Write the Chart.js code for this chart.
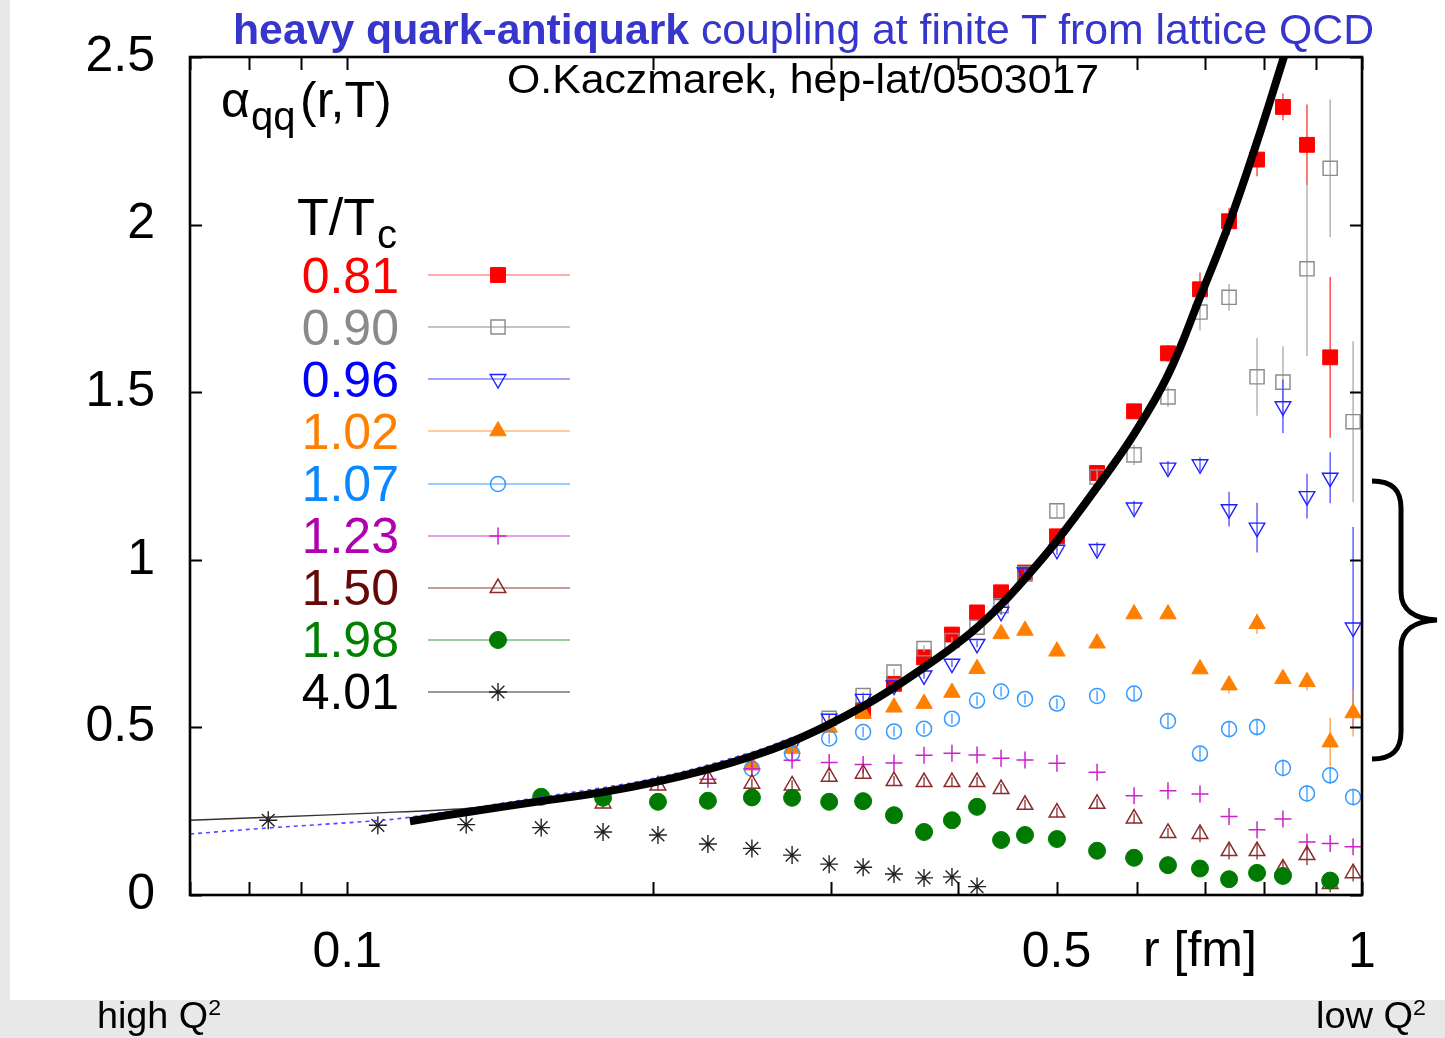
<!DOCTYPE html>
<html>
<head>
<meta charset="utf-8">
<title>heavy quark-antiquark coupling at finite T from lattice QCD</title>
<script src="https://cdn.jsdelivr.net/npm/chart.js@4.4.1/dist/chart.umd.min.js"></script>
<style>
  html, body { margin:0; padding:0; }
  body { width:1445px; height:1038px; background:#e8e8e8; position:relative; overflow:hidden;
         font-family:"Liberation Sans", Arial, Helvetica, sans-serif; }
  #panel { position:absolute; left:10px; top:0; width:1435px; height:1000px; background:#ffffff; }
  #chartBox { position:absolute; left:0; top:0; width:1445px; height:1038px; }
  .t { position:absolute; white-space:nowrap; line-height:1; transform-origin:0 0; }
  .bl { display:inline-block; width:0; height:0; vertical-align:baseline; }
  #brace { position:absolute; left:0; top:0; }
</style>
</head>
<body>
<div id="panel"></div>
<div id="chartBox"><canvas id="chart" width="1445" height="1038"></canvas></div>
<svg id="brace" width="1445" height="1038">
  <path d="M1372,481 C1392,481 1401,490 1401,508 L1401,592 C1401,610 1415,619 1437,620 C1415,621 1401,630 1401,648 L1401,732 C1401,750 1392,759 1372,759"
        fill="none" stroke="#000" stroke-width="5"/>
</svg>
<script>
// ---------------- data ----------------
const rValues = [0.0836,0.1072,0.1310,0.1553,0.1787,0.2024,0.2267,0.2505,0.2744,0.2985,
                 0.3224,0.3458,0.3702,0.3944,0.4175,0.4409,0.4655,0.5005,0.5482,0.5962,
                 0.6439,0.6924,0.7396,0.7881,0.8358,0.8827,0.9303,0.9800];

const alpha081 = [null,null,null,null,null,null,null,null,null,null,
                  0.551,0.630,0.709,0.777,0.843,0.903,0.962,1.070,1.259,1.443,
                  1.616,1.807,2.010,2.194,2.351,2.238,1.604,null];
const err081   = [null,null,null,null,null,null,null,null,null,null,
                  0.01,0.01,0.01,0.01,0.01,0.01,0.01,0.015,0.02,0.02,
                  0.025,0.05,0.04,0.05,0.04,0.12,0.24,null];

const alpha090 = [null,null,null,null,null,null,null,null,null,0.527,
                  0.595,0.665,0.735,0.759,0.799,0.863,0.958,1.146,1.247,1.313,
                  1.486,1.739,1.783,1.546,1.530,1.868,2.168,1.412];
const err090   = [null,null,null,null,null,null,null,null,null,0.01,
                  0.01,0.01,0.01,0.01,0.01,0.01,0.015,0.02,0.025,0.03,
                  0.03,0.055,0.04,0.116,0.107,0.26,0.205,0.24];

const alpha096 = [null,null,null,null,null,null,null,null,0.446,0.526,
                  0.585,0.625,0.655,0.690,0.749,0.845,0.962,1.030,1.032,1.156,
                  1.275,1.285,1.151,1.096,1.458,1.190,1.245,0.798];
const err096   = [null,null,null,null,null,null,null,null,0.01,0.01,
                  0.01,0.01,0.01,0.01,0.01,0.01,0.015,0.015,0.02,0.02,
                  0.02,0.02,0.052,0.074,0.08,0.067,0.076,0.30];

const alpha102 = [null,null,null,null,null,null,null,0.387,0.437,0.500,
                  0.541,0.560,0.571,0.604,0.675,0.779,0.789,0.727,0.751,0.838,
                  0.838,0.674,0.626,0.809,0.645,0.636,0.456,0.543];
const err102   = [null,null,null,null,null,null,null,0.01,0.01,0.01,
                  0.01,0.01,0.01,0.01,0.01,0.01,0.01,0.01,0.01,0.01,
                  0.01,0.01,0.025,0.03,0.015,0.025,0.073,0.07];

const alpha107 = [null,null,null,null,null,null,null,0.377,0.422,0.467,
                  0.486,0.488,0.496,0.526,0.580,0.607,0.585,0.571,0.594,0.601,
                  0.519,0.422,0.495,0.501,0.379,0.303,0.357,0.292];
const err107   = [null,null,null,null,null,null,null,0.015,0.015,0.015,
                  0.015,0.015,0.015,0.015,0.015,0.015,0.015,0.015,0.015,0.02,
                  0.02,0.02,0.025,0.025,0.025,0.025,0.025,0.025];

const alpha123 = [null,null,null,null,null,null,0.345,0.377,0.402,0.395,
                  0.389,0.394,0.417,0.423,0.418,0.408,0.403,0.393,0.366,0.296,
                  0.311,0.301,0.234,0.195,0.227,0.158,0.154,0.144];

const alpha150 = [null,null,null,null,0.273,0.327,0.347,0.332,0.327,0.353,
                  0.362,0.340,0.337,0.337,0.337,0.316,0.269,0.246,0.272,0.228,
                  0.185,0.182,0.131,0.131,0.079,0.119,0.033,0.065];
const err150   = [null,null,null,null,0.015,0.015,0.015,0.015,0.015,0.015,
                  0.015,0.015,0.015,0.015,0.015,0.015,0.015,0.015,0.015,0.015,
                  0.015,0.025,0.025,0.025,0.025,0.03,0.025,0.025];

const alpha198 = [null,null,null,0.293,0.290,0.278,0.281,0.291,0.290,0.278,
                  0.280,0.238,0.188,0.223,0.263,0.164,0.179,0.167,0.132,0.111,
                  0.089,0.079,0.047,0.066,0.057,null,0.043,null];

const alpha401 = [0.223,0.208,0.210,0.201,0.188,0.179,0.152,0.139,0.119,0.092,
                  0.083,0.0625,0.051,0.054,0.025,null,null,null,null,null,
                  null,null,null,null,null,null,null,null];

// thick black curve (zero-temperature coupling)
const curveR     = [0.1153,0.1310,0.1553,0.1787,0.2006,0.2267,0.2505,0.2744,0.2985,0.3224,
                    0.3458,0.3702,0.3944,0.4175,0.4409,0.4655,0.5005,0.5482,0.5962,0.6439,
                    0.6924,0.7396,0.7881,0.8358,0.8688];
const curveAlpha = [0.220,0.247,0.280,0.307,0.336,0.375,0.414,0.458,0.509,0.563,
                    0.619,0.679,0.738,0.798,0.866,0.944,1.057,1.217,1.375,1.551,
                    1.783,2.003,2.247,2.491,2.652];
// thin black perturbative line
const thinR     = [0.0700,0.0836,0.1072,0.1310,0.1600,0.1900];
const thinAlpha = [0.223,0.232,0.245,0.258,0.282,0.322];
// blue dashed perturbative line
const dashR     = [0.0700,0.0836,0.1072,0.1153,0.1553,0.2006,0.2505,0.2744];
const dashAlpha = [0.182,0.200,0.222,0.232,0.292,0.348,0.426,0.470];

const seriesLabels = ['0.81','0.90','0.96','1.02','1.07','1.23','1.50','1.98','4.01'];
const xTickValues = [0.07,0.08,0.09,0.1,0.2,0.3,0.4,0.5,0.6,0.7,0.8,0.9,1];
const xTickLabels = ['','','','0.1','','','','0.5','','','','','1'];
const yTickValues = [0,0.5,1,1.5,2,2.5];
const yTickLabels = ['0','0.5','1','1.5','2','2.5'];

// ---------------- styles ----------------
const FONT = '"Liberation Sans", Arial, Helvetica, sans-serif';
const seriesValues = [alpha081,alpha090,alpha096,alpha102,alpha107,alpha123,alpha150,alpha198,alpha401];
const seriesErrors = [err081,err090,err096,err102,err107,null,err150,null,null];
const styles = [
  {color:'#ff0000', text:'#ff0000', err:'#ff3030', line:'#ff5a5a', ps:'rect',     rot:0,   r:10.5, fill:true,  bw:1},
  {color:'#8a8a8a', text:'#8a8a8a', err:'#a8a8a8', line:'#8a8a8a', ps:'rect',     rot:0,   r:10,   fill:false, bw:1.4},
  {color:'#2020ff', text:'#0000ff', err:'#4a4aff', line:'#4a4aff', ps:'triangle', rot:180, r:9,    fill:false, bw:1.4},
  {color:'#ff8000', text:'#ff8000', err:'#ff9a3a', line:'#ff9a3a', ps:'triangle', rot:0,   r:9.5,  fill:true,  bw:1},
  {color:'#3399ff', text:'#0a88ff', err:'#3399ff', line:'#3399ff', ps:'circle',   rot:0,   r:7.5,  fill:false, bw:1.5},
  {color:'#cc22cc', text:'#b000b0', err:'#cc22cc', line:'#cc44cc', ps:'cross',    rot:0,   r:8.5,  fill:false, bw:1.5},
  {color:'#8b2b2b', text:'#660808', err:'#8b2b2b', line:'#8b3a3a', ps:'triangle', rot:0,   r:9,    fill:false, bw:1.5},
  {color:'#007a00', text:'#008000', err:'#007a00', line:'#3a9a3a', ps:'circle',   rot:0,   r:8.5,  fill:true,  bw:1},
  {color:'#222222', text:'#000000', err:'#222222', line:'#333333', ps:'star',     rot:0,   r:9,    fill:false, bw:1.4}
];
const legendLineY = [275,327,379,431,484,536,588,640,692];
const legendBaseY = [293,345,397,448.5,500.5,552.5,604.5,656.5,708.5];

const datasets = seriesValues.map((vals, i) => {
  const s = styles[i], errs = seriesErrors[i];
  const pts = [];
  rValues.forEach((r, j) => { if (vals[j] != null) pts.push({x:r, y:vals[j], e: errs ? (errs[j] || 0) : 0}); });
  return {
    type:'scatter', label:seriesLabels[i], data:pts, showLine:false,
    pointStyle:s.ps, pointRotation:s.rot, pointRadius:s.r, pointHoverRadius:s.r,
    pointBackgroundColor: s.fill ? s.color : 'rgba(0,0,0,0)',
    pointBorderColor:s.color, pointBorderWidth:s.bw,
    order: 30 - i, errColor: s.err
  };
});
datasets.push({
  type:'line', label:'thin', data: thinR.map((r,i)=>({x:r, y:thinAlpha[i]})),
  borderColor:'#333333', borderWidth:1.3, pointRadius:0, fill:false, order:3, tension:0.3
});
datasets.push({
  type:'line', label:'dash', data: dashR.map((r,i)=>({x:r, y:dashAlpha[i]})),
  borderColor:'#4a4aff', borderWidth:1.6, borderDash:[4,4], pointRadius:0, fill:false, order:2,
  tension:0.35
});
datasets.push({
  type:'line', label:'T=0', data: curveR.map((r,i)=>({x:r, y:curveAlpha[i]})),
  borderColor:'#000000', borderWidth:8, pointRadius:0, fill:false, order:0, clip:0,
  tension:0.4, borderCapStyle:'butt', borderJoinStyle:'round'
});

// ---------------- plugins ----------------
const errorBarPlugin = {
  id:'errbars',
  beforeDatasetDraw(chart, args) {
    const ds = chart.data.datasets[args.index];
    if (!ds.errColor) return;
    const {ctx, chartArea:a, scales:{x, y}} = chart;
    ctx.save();
    ctx.beginPath(); ctx.rect(a.left, a.top, a.right - a.left, a.bottom - a.top); ctx.clip();
    ctx.strokeStyle = ds.errColor; ctx.lineWidth = 1.3;
    ds.data.forEach(p => {
      if (!p.e) return;
      const px = x.getPixelForValue(p.x);
      ctx.beginPath();
      ctx.moveTo(px, y.getPixelForValue(p.y - p.e));
      ctx.lineTo(px, y.getPixelForValue(p.y + p.e));
      ctx.stroke();
    });
    ctx.restore();
  }
};

const framePlugin = {
  id:'frame',
  afterDraw(chart) {
    const {ctx, chartArea:a, scales:{x, y}} = chart;
    ctx.save();
    ctx.strokeStyle = '#000'; ctx.lineWidth = 2;
    ctx.beginPath();
    yTickValues.forEach(v => {
      const py = Math.round(y.getPixelForValue(v)) + 0.5;
      ctx.moveTo(a.left, py); ctx.lineTo(a.left + 12, py);
      ctx.moveTo(a.right, py); ctx.lineTo(a.right - 12, py);
    });
    xTickValues.forEach(v => {
      const px = Math.round(x.getPixelForValue(v)) + 0.5;
      ctx.moveTo(px, a.bottom); ctx.lineTo(px, a.bottom - 13);
      ctx.moveTo(px, a.top); ctx.lineTo(px, a.top + 13);
    });
    ctx.stroke();
    ctx.lineWidth = 2.6;
    ctx.strokeRect(a.left, a.top, a.right - a.left, a.bottom - a.top);

    // legend samples
    styles.forEach((s, i) => {
      const ly = legendLineY[i];
      ctx.strokeStyle = s.line; ctx.lineWidth = 1.2;
      ctx.beginPath(); ctx.moveTo(428, ly); ctx.lineTo(570, ly); ctx.stroke();
      ctx.fillStyle = s.fill ? s.color : 'rgba(0,0,0,0)';
      ctx.strokeStyle = s.color; ctx.lineWidth = s.bw;
      if (Chart.helpers && Chart.helpers.drawPoint) {
        Chart.helpers.drawPoint(ctx, {pointStyle:s.ps, rotation:s.rot, radius:s.r, borderWidth:s.bw}, 498, ly);
      }
    });
    ctx.restore();
  }
};

new Chart(document.getElementById('chart'), {
  type:'scatter',
  data:{ datasets },
  options:{
    responsive:false, animation:false, devicePixelRatio:1, events:[],
    layout:{ padding:{ top:55, right:83, left:0, bottom:0 } },
    plugins:{ legend:{display:false}, tooltip:{enabled:false}, title:{display:false} },
    scales:{
      x:{
        type:'logarithmic', min:0.07, max:1, position:'bottom',
        afterBuildTicks: sc => { sc.ticks = xTickValues.map(v => ({value:v})); },
        afterFit: sc => { sc.height = 143; },
        grid:{display:false}, border:{display:false},
        ticks:{ autoSkip:false, maxRotation:0, minRotation:0, padding:20, color:'#000',
                font:{family:FONT, size:50},
                callback:(v, i) => xTickLabels[i] }
      },
      y:{
        type:'linear', min:0, max:2.5, position:'left',
        afterBuildTicks: sc => { sc.ticks = yTickValues.map(v => ({value:v})); },
        afterFit: sc => { sc.width = 190; },
        grid:{display:false}, border:{display:false},
        ticks:{ padding:27, color:'#000', font:{family:FONT, size:50},
                callback:(v, i) => yTickLabels[i] }
      }
    }
  },
  plugins:[errorBarPlugin, framePlugin]
});

// ---------------- text ----------------
function placeText(html, o) {
  const el = document.createElement('div');
  el.className = 't';
  el.style.fontSize = o.size + 'px';
  el.style.color = o.color || '#000';
  if (o.weight) el.style.fontWeight = o.weight;
  el.innerHTML = html + '<span class="bl"></span>';
  document.body.appendChild(el);
  const blOff = el.querySelector('.bl').offsetTop;
  const w = el.getBoundingClientRect().width;
  const sx = o.width ? o.width / w : 1;
  if (sx !== 1) el.style.transform = 'scaleX(' + sx + ')';
  let left = o.x;
  if (o.align === 'right') left = o.x - w * sx;
  else if (o.align === 'center') left = o.x - w * sx / 2;
  el.style.left = left + 'px';
  el.style.top = (o.baseline - blOff) + 'px';
  return el;
}

placeText('<b>heavy quark-antiquark</b> coupling at finite T from lattice QCD',
          {x:233, baseline:44, size:43, color:'#3636cc', width:1141});
placeText('O.Kaczmarek, hep-lat/0503017', {x:507, baseline:93, size:41, width:592});
placeText('&alpha;', {x:221, baseline:117, size:50});
placeText('qq', {x:251, baseline:130, size:40});
placeText('(r,T)', {x:300, baseline:117, size:50});
placeText('T/T', {x:297, baseline:235, size:52});
placeText('c', {x:377, baseline:248, size:40});
seriesLabels.forEach((lab, i) => {
  placeText(lab, {x:399, baseline:legendBaseY[i], size:50, color:styles[i].text, align:'right'});
});
placeText('r [fm]', {x:1143, baseline:966, size:50});
placeText('high Q<span style="font-size:22px;position:relative;top:-13px">2</span>',
          {x:97, baseline:1028, size:36, width:124});
placeText('low Q<span style="font-size:22px;position:relative;top:-13px">2</span>',
          {x:1316, baseline:1028, size:36, width:110});
</script>
</body>
</html>
